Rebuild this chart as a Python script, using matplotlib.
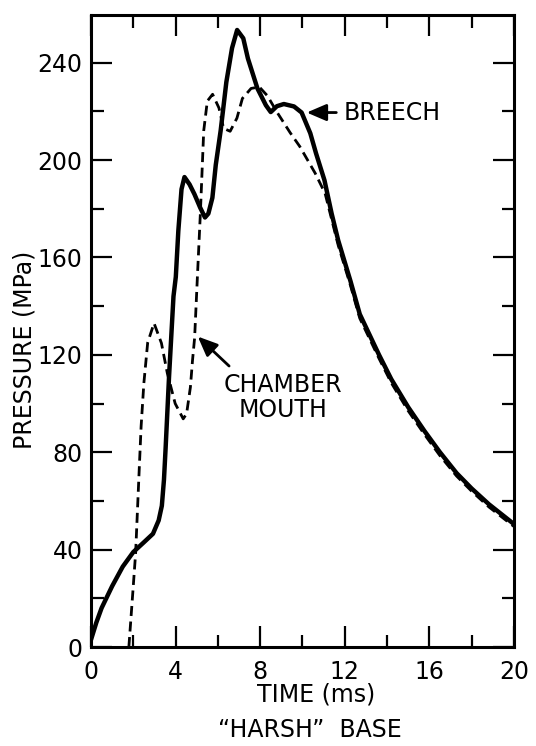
#Pressure-time curves at the breech and at the chamber mouth, "harsh" base

import numpy as np
import matplotlib
matplotlib.use('Agg')
import matplotlib.pyplot as plt

#Breech pressure (solid curve), time in ms, pressure in MPa
breech_time=[0, 0.25, 0.5, 1.0, 1.5, 2.0, 2.5, 2.93, 3.2, 3.35, 3.45, 3.53, 3.69,
	3.9, 4.01, 4.13, 4.28, 4.42, 4.66, 4.89, 5.16, 5.39, 5.55, 5.74, 5.9, 6.13,
	6.4, 6.67, 6.91, 7.2, 7.42, 7.87, 8.27, 8.5, 8.79, 9.12, 9.6, 9.96, 10.37,
	10.64, 11.04, 11.38, 11.69, 12.27, 12.71, 13.62, 14.2, 15.0, 15.77, 16.5,
	17.29, 18.0, 18.82, 20.0]
breech_press=[3, 10, 16, 25, 33, 39, 43, 46.5, 52, 58, 68.7, 82, 111,
	144, 152, 171, 188, 193, 190, 186, 180.5, 176.4, 178, 184.5, 198, 212,
	232, 246, 253.4, 250, 241.7, 229.4, 222.5, 219.7, 222.1, 223, 222, 219.5, 211,
	202.8, 191.7, 178, 167, 150.3, 136.7, 120, 110, 98.5, 88.7, 80,
	71.4, 65.1, 58.6, 50.5]

#Chamber mouth pressure (dashed curve)
mouth_time=[1.79, 1.99, 2.11, 2.28, 2.37, 2.5, 2.68, 2.98, 3.33, 3.61, 3.98, 4.36,
	4.52, 4.7, 4.8, 4.9, 5.03, 5.17, 5.33, 5.5, 5.75, 6.05, 6.27, 6.58, 6.9, 7.16,
	7.57, 7.96, 8.34, 8.8, 9.42, 9.87, 10.6, 11.07, 11.69, 12.27, 12.71, 13.62,
	14.2, 15.0, 15.77, 16.5, 17.29, 18.0, 18.82, 20.0]
mouth_press=[0, 24, 38.6, 73, 90.7, 108.4, 125, 133, 124.8, 112.4, 100, 93.7,
	95.8, 106.7, 117.7, 127, 151.8, 177.8, 212, 224.2, 227, 221.4, 213, 211.8, 217.2, 225.3,
	229.4, 230, 226.4, 219.6, 211.2, 205.6, 194.6, 186.3, 165, 148.5, 135, 118.5,
	108.5, 97, 87.3, 78.6, 70.2, 64, 57.5, 49.5]

#Axis ticks
xticks=[0, 4, 8, 12, 16, 20]
yticks=[0, 40, 80, 120, 160, 200, 240]

fs=17

fig=plt.figure(figsize=(5.36,7.46), dpi=100)
ax=fig.add_axes([0.1698, 0.1327, 0.789, 0.847])

ax.plot(breech_time, breech_press, '-', color='black', lw=3.2,
	solid_joinstyle='round', solid_capstyle='round')
ax.plot(mouth_time, mouth_press, '--', color='black', lw=2.0, dashes=(3.6,2.0))

ax.set_xlim(0,20)
ax.set_ylim(0,259.5)
ax.set_xticks(xticks)
ax.set_xticks(np.arange(0,21,2), minor=True)
ax.set_yticks(yticks)
ax.set_yticks(np.arange(0,260,20), minor=True)

for side in ['left','right','top','bottom']:
	ax.spines[side].set_linewidth(2.2)

ax.tick_params(which='both', direction='in', top=True, right=True, width=1.6, labelsize=fs)
ax.tick_params(which='major', length=15)
ax.tick_params(which='minor', length=9)
ax.tick_params(axis='x', pad=9)
ax.tick_params(axis='y', pad=6)

#Labels
fig.text(0.0466, 0.531, 'PRESSURE (MPa)', rotation=90, ha='center', va='center', fontsize=fs)
fig.text(0.5896, 0.069, 'TIME (ms)', ha='center', va='center', fontsize=fs)
fig.text(0.578, 0.022, '\u201cHARSH\u201d  BASE', ha='center', va='center', fontsize=fs)

#Curve names with arrows
arrow=dict(arrowstyle='-|>,head_length=0.7,head_width=0.3', color='black', lw=2,
	shrinkA=0, shrinkB=0, mutation_scale=17)
ax.annotate('', xy=(10.2,219.5), xytext=(11.6,219.5), arrowprops=arrow)
ax.text(11.95, 219.5, 'BREECH', ha='left', va='center', fontsize=fs)
ax.annotate('', xy=(5.05,127.5), xytext=(6.53,115.4), arrowprops=arrow)
ax.text(9.1, 102.5, 'CHAMBER\nMOUTH', ha='center', va='center', multialignment='center',
	fontsize=fs, linespacing=1.05)

plt.savefig('out.png', dpi=100)
